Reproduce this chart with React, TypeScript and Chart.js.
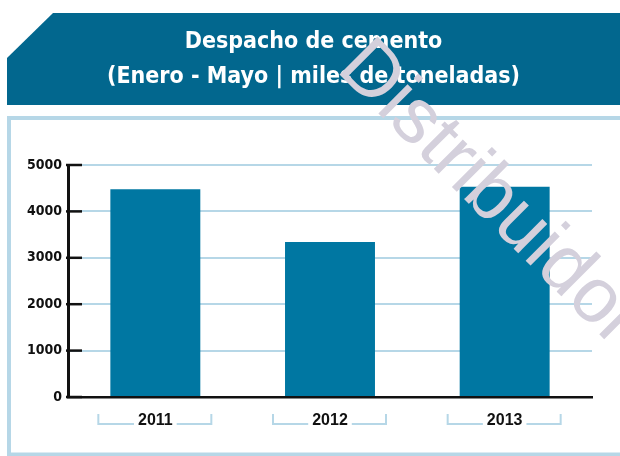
import React, { useEffect, useRef } from "react";
import { Chart, registerables } from "chart.js";

Chart.register(...registerables);

const categories = ["2011", "2012", "2013"];
const despacho = [4480, 3340, 4530];
const yMin = 0;
const yMax = 5000;
const yStep = 1000;
const titleLines = ["Despacho de cemento", "(Enero - Mayo | miles de toneladas)"];
const watermark = "Distribuidor";

const BANNER = "#02678e";
const BAR = "#0077a2";
const LIGHT = "#b6d7e7";
const MARK = "#d4d0dc";
const INK = "#111111";

const decorPlugin = {
  id: "decor",
  beforeDraw(chart: any) {
    const ctx = chart.ctx;
    const w = chart.width;
    ctx.save();
    // banner with cut corner
    ctx.fillStyle = BANNER;
    ctx.beginPath();
    ctx.moveTo(7, 58);
    ctx.lineTo(53, 13);
    ctx.lineTo(w, 13);
    ctx.lineTo(w, 105);
    ctx.lineTo(7, 105);
    ctx.closePath();
    ctx.fill();
    // light frame
    ctx.strokeStyle = LIGHT;
    ctx.lineWidth = 4;
    ctx.strokeRect(9, 118, w + 10, 336.5);
    ctx.restore();
  },
  afterDatasetsDraw(chart: any) {
    const ctx = chart.ctx;
    const y = chart.scales.y;
    const left = chart.chartArea.left;
    ctx.save();
    ctx.strokeStyle = INK;
    ctx.lineWidth = 2.5;
    y.ticks.forEach((t: any) => {
      const py = y.getPixelForValue(t.value);
      ctx.beginPath();
      ctx.moveTo(left - 2, py);
      ctx.lineTo(left + 14, py);
      ctx.stroke();
    });
    ctx.restore();
  },
  afterDraw(chart: any) {
    const ctx = chart.ctx;
    const x = chart.scales.x;
    ctx.save();
    // brackets around category labels
    ctx.font = 'bold 16px "Liberation Sans"';
    ctx.strokeStyle = LIGHT;
    ctx.lineWidth = 2;
    categories.forEach((c, i) => {
      const cx = x.getPixelForValue(i);
      const half = ctx.measureText(c).width / 2 + 4;
      const l = cx - 57;
      const r = cx + 56;
      ctx.beginPath();
      ctx.moveTo(l, 414);
      ctx.lineTo(l, 424);
      ctx.lineTo(cx - half, 424);
      ctx.moveTo(cx + half, 424);
      ctx.lineTo(r, 424);
      ctx.lineTo(r, 414);
      ctx.stroke();
    });
    // watermark
    ctx.translate(335, 70);
    ctx.rotate((45 * Math.PI) / 180);
    ctx.font = '78px "Liberation Sans"';
    ctx.fillStyle = MARK;
    ctx.textBaseline = "alphabetic";
    ctx.fillText(watermark, 0, 0);
    ctx.restore();
  },
};

export default function App() {
  const ref = useRef<HTMLCanvasElement | null>(null);
  useEffect(() => {
    if (!ref.current) return;
    const chart = new Chart(ref.current, {
      type: "bar",
      data: {
        labels: categories,
        datasets: [
          {
            data: despacho,
            backgroundColor: BAR,
            barPercentage: 0.515,
            categoryPercentage: 1,
          },
        ],
      },
      options: {
        animation: false,
        responsive: false,
        layout: { padding: { left: 7, right: 0, top: 0, bottom: 0 } },
        plugins: {
          legend: { display: false },
          tooltip: { enabled: false },
          title: {
            display: true,
            text: titleLines,
            color: "#ffffff",
            font: { family: '"DejaVu Sans Condensed"', size: 23, weight: "bold", lineHeight: 35 / 23 },
            padding: { top: 25, bottom: 70 },
          },
        },
        scales: {
          x: {
            grid: { display: false, drawTicks: false },
            border: { display: true, color: INK, width: 2.5, z: 1 },
            ticks: {
              color: INK,
              padding: 14,
              font: { family: '"Liberation Sans"', size: 16, weight: "bold" },
            },
            afterFit: (s: any) => {
              s.height = 59;
            },
          },
          y: {
            min: yMin,
            max: yMax,
            grid: {
              drawTicks: false,
              lineWidth: 2,
              color: (c: any) => (c.tick && c.tick.value === 0 ? "rgba(0,0,0,0)" : LIGHT),
            },
            border: { display: true, color: INK, width: 3, z: 1 },
            ticks: {
              stepSize: yStep,
              color: INK,
              padding: 6,
              font: { family: '"DejaVu Sans Condensed"', size: 14, weight: "bold" },
              callback: (v: any) => String(v),
            },
            afterFit: (s: any) => {
              s.width = 61;
            },
          },
          y2: {
            position: "right",
            min: yMin,
            max: yMax,
            grid: { display: false, drawTicks: false },
            border: { display: false },
            ticks: { display: false },
            afterFit: (s: any) => {
              s.width = 28;
            },
          },
        },
      },
      plugins: [decorPlugin],
    });
    return () => chart.destroy();
  }, []);
  return (
    <div style={{ position: "fixed", left: 0, top: 0, width: 620, height: 456, background: "#fff" }}>
      <canvas ref={ref} width={620} height={456} style={{ display: "block" }} />
    </div>
  );
}
